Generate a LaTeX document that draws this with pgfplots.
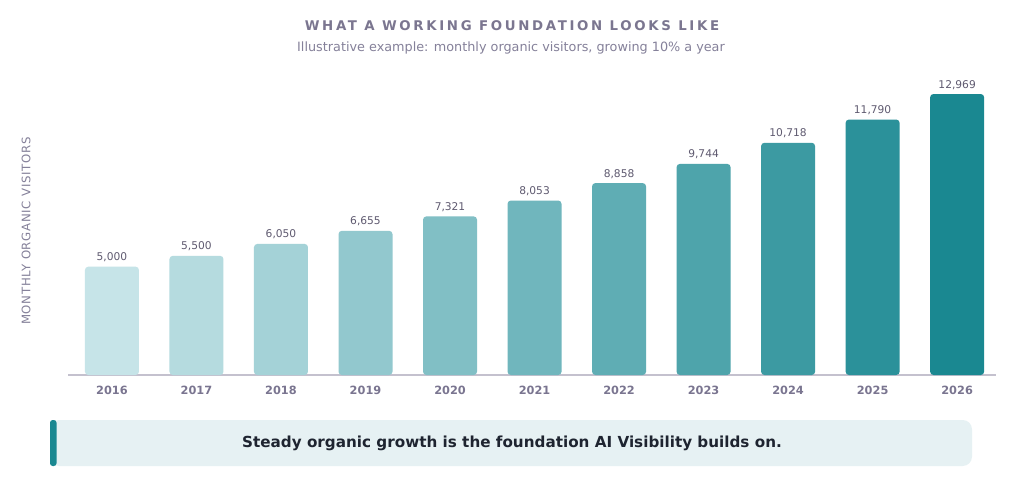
\documentclass[border=0pt]{standalone}
\usepackage{pgfplots}
\pgfplotsset{compat=1.18}
\usepackage{fontspec}
\setmainfont{DejaVu Sans}
\newfontfamily\spacedfont[LetterSpace=20]{DejaVu Sans}
\newfontfamily\axislabelfont[LetterSpace=6]{DejaVu Sans}
\definecolor{barlight}{HTML}{C6E4E8}
\definecolor{bardark}{HTML}{1A8891}
\definecolor{titlegray}{HTML}{7B7690}
\definecolor{subgray}{HTML}{85819A}
\definecolor{valgray}{HTML}{5F5A70}
\definecolor{tickgray}{HTML}{7A7590}
\definecolor{axisgray}{HTML}{C4C1CE}
\definecolor{calloutbg}{HTML}{E6F1F3}
\definecolor{callouttext}{HTML}{1E2430}

\begin{document}
\begin{tikzpicture}[x=0.75pt,y=-0.75pt]
% page frame, 1024 x 478 px
\fill[white] (0,0) rectangle (1024,478);

\node[font=\spacedfont\bfseries\fontsize{10}{12}\selectfont, text=titlegray] at (512,26) {WHAT A WORKING FOUNDATION LOOKS LIKE};
\node[font=\fontsize{9.6}{12}\selectfont, text=subgray] at (511,48) {Illustrative example: monthly organic visitors, growing 10\% a year};
\node[rotate=90, font=\axislabelfont\fontsize{8.8}{10}\selectfont, text=subgray] at (26,231) {MONTHLY ORGANIC VISITORS};

\begin{axis}[
  at={(51pt,-281.25pt)}, anchor=south west,
  width=696pt, height=227.5pt, scale only axis,
  xmin=-0.52, xmax=10.46, ymin=0, ymax=14000,
  axis x line*=bottom, axis y line=none,
  axis line style={axisgray, line width=0.8pt, -},
  xtick={0,1,2,3,4,5,6,7,8,9,10},
  xticklabels={2016,2017,2018,2019,2020,2021,2022,2023,2024,2025,2026},
  major tick length=0pt,
  xticklabel style={font=\bfseries\fontsize{8.5}{10}\selectfont, text=tickgray, yshift=-5pt},
  ybar, bar width=40.5pt, bar shift=0pt,
  every axis plot/.append style={draw=none, rounded corners=2.5pt},
  nodes near coords={\pgfmathprintnumber[assume math mode=true,fixed,precision=0,1000 sep={,}]{\pgfplotspointmeta}},
  nodes near coords style={font=\fontsize{8}{10}\selectfont, text=valgray, rounded corners=0pt},
  clip=false,
]
\addplot[fill=bardark!0!barlight]   coordinates {(0,5000)};
\addplot[fill=bardark!10!barlight]  coordinates {(1,5500)};
\addplot[fill=bardark!20!barlight]  coordinates {(2,6050)};
\addplot[fill=bardark!30!barlight]  coordinates {(3,6655)};
\addplot[fill=bardark!40!barlight]  coordinates {(4,7321)};
\addplot[fill=bardark!50!barlight]  coordinates {(5,8053)};
\addplot[fill=bardark!60!barlight]  coordinates {(6,8858)};
\addplot[fill=bardark!70!barlight]  coordinates {(7,9744)};
\addplot[fill=bardark!80!barlight]  coordinates {(8,10718)};
\addplot[fill=bardark!90!barlight]  coordinates {(9,11790)};
\addplot[fill=bardark!100!barlight] coordinates {(10,12969)};
\end{axis}

% takeaway callout
\fill[calloutbg, rounded corners=7pt] (50,420) rectangle (972,466);
\fill[bardark, rounded corners=2pt] (50,420) rectangle (56.5,466);
\node[font=\bfseries\fontsize{11.4}{14}\selectfont, text=callouttext] at (512,443) {Steady organic growth is the foundation AI Visibility builds on.};
\end{tikzpicture}
\end{document}
